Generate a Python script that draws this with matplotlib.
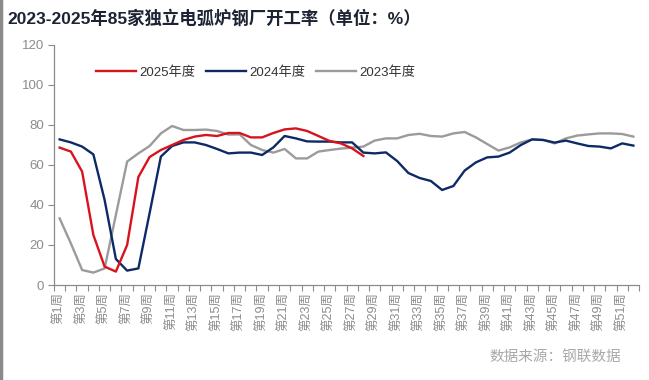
import numpy as np
import matplotlib
matplotlib.use("Agg")
import matplotlib.pyplot as plt
from matplotlib.lines import Line2D

plt.rcParams['font.family'] = ['Liberation Sans', 'Noto Sans CJK SC', 'DejaVu Sans']

# weekly operating rate (%) of 85 independent EAF mills
weeks = np.arange(1, 53)
week_labels = [f"第{w}周" for w in weeks[::2]]

rate_2025 = [68.7, 66.7, 56.7, 25, 9.2, 6.7, 20, 54, 64, 67.5, 70, 72.5, 74.2, 75,
             74.5, 76, 76, 73.8, 73.8, 76, 77.8, 78.3, 77, 74.5, 72, 70.8, 68.3, 64.5]

rate_2024 = [72.8, 71.3, 69.2, 65.3, 42.5, 13, 7.2, 8.3, 36, 64.2, 69.5, 71.3, 71.3, 70,
             68, 65.8, 66.2, 66.2, 65, 68.8, 74.5, 73.3, 71.8, 71.7, 71.7, 71.3, 71.3, 66.2,
             65.8, 66.3, 62, 56, 53.5, 52, 47.5, 49.5, 57.2, 61.3, 63.8, 64.2, 66.2, 70,
             72.8, 72.5, 71.2, 72.2, 70.8, 69.5, 69.2, 68.3, 70.8, 69.7]

rate_2023 = [33.3, 20.8, 7.5, 6.2, 8.3, 35, 61.7, 65.8, 69.5, 75.8, 79.5, 77.5, 77.5, 77.7,
             77, 75.2, 75.3, 70, 67.5, 66.2, 68, 63.3, 63.3, 66.7, 67.5, 68.2, 68.7, 69.2,
             72.2, 73.3, 73.3, 75, 75.6, 74.5, 74.2, 75.8, 76.5, 73.8, 70.5, 67.2, 68.8, 71.3,
             72.8, 72.5, 70.8, 73.3, 74.7, 75.3, 75.8, 75.8, 75.5, 74.2]

fig = plt.figure(figsize=(6.49, 3.80), dpi=100)
ax = fig.add_axes([0.0832, 0.25, 0.9014, 0.6316])

ax.plot(weeks[:len(rate_2025)], rate_2025, color='#d7141c', lw=1.7, label='2025年度', zorder=4)
ax.plot(weeks, rate_2024, color='#0d2a66', lw=1.7, label='2024年度', zorder=3)
ax.plot(weeks, rate_2023, color='#9b9b9b', lw=1.7, label='2023年度', zorder=2)

ax.set_xlim(0.5, 52.5)
ax.set_ylim(0, 120)
ax.set_yticks(np.arange(0, 121, 20))

# category boundaries carry the tick marks, odd weeks carry the labels
ax.set_xticks(np.arange(0.5, 53, 1))
ax.set_xticklabels([])
ax.set_xticks(weeks[::2], week_labels, minor=True)
ax.tick_params(axis='x', which='major', direction='out', length=4, color='#8c8c8c', width=0.8)
ax.tick_params(axis='x', which='minor', length=0, pad=5, labelsize=9, labelcolor='#8c8c8c',
               labelrotation=90)
for t in ax.get_xticklabels(minor=True):
    t.set_va('top')
ax.tick_params(axis='y', direction='out', length=4, color='#8c8c8c', width=0.8,
               labelsize=9.5, labelcolor='#8c8c8c', pad=3)

for s in ['top', 'right']:
    ax.spines[s].set_visible(False)
for s in ['left', 'bottom']:
    ax.spines[s].set_color('#8c8c8c')
    ax.spines[s].set_linewidth(0.9)

leg = ax.legend(loc='center', bbox_to_anchor=(0.345, 0.885), ncol=3, frameon=False,
                fontsize=9.5, handlelength=3.0, handletextpad=0.3, columnspacing=0.8)
for t in leg.get_texts():
    t.set_color('#333333')

fig.text(0.012, 0.952, '2023-2025年85家独立电弧炉钢厂开工率（单位：%）', fontsize=12.5,
         fontweight='bold', color='#1c2333', va='center', ha='left')
fig.text(0.957, 0.06, '数据来源：钢联数据', fontsize=10.5, color='#a8a8a8', ha='right', va='center')

fig.add_artist(Line2D([0.002, 0.002], [0, 1], color='#8a8a8a', lw=2.5))

fig.savefig('out.png', dpi=100)
